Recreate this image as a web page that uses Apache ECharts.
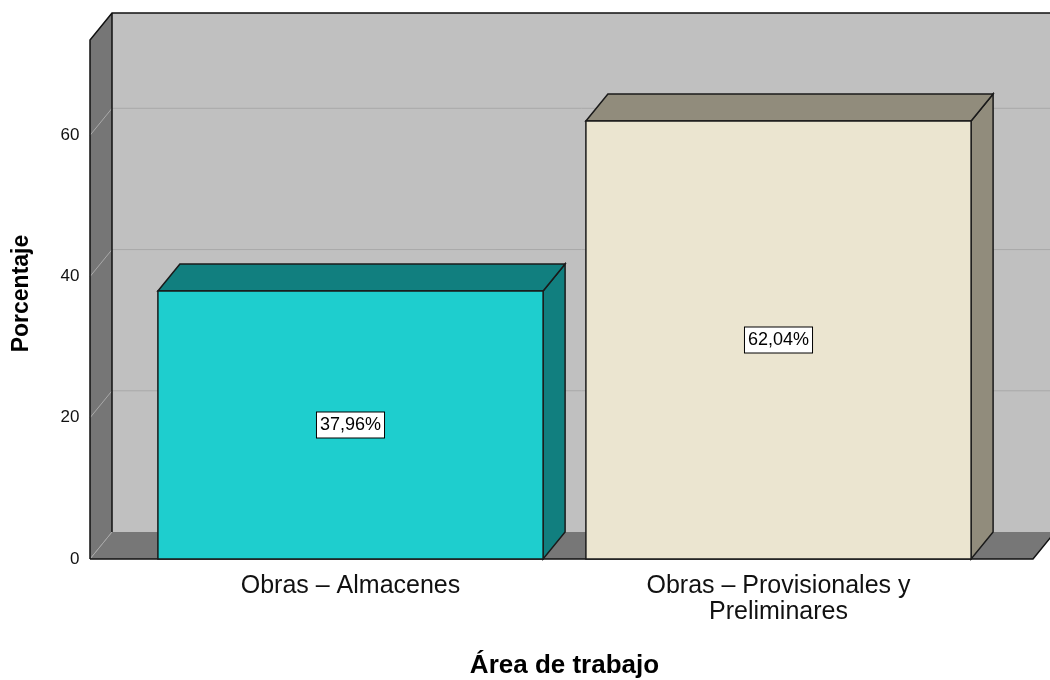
<!DOCTYPE html>
<html>
<head>
<meta charset="utf-8">
<title>Área de trabajo</title>
<script src="https://cdn.jsdelivr.net/npm/echarts@6/dist/echarts.min.js"></script>
<style>
  html, body { margin: 0; padding: 0; background: #fff; }
  #chart { width: 1050px; height: 680px; }
</style>
</head>
<body>
<div id="chart"></div>
<script>
// datos
var categorias = ['Obras – Almacenes', 'Obras – Provisionales y\nPreliminares'];
var porcentajes = [37.96, 62.04];
var yTicks = [0, 20, 40, 60];

// colores (frente / lado-techo)
var coloresFrente = ['#1ecece', '#ebe5d0'];
var coloresSombra = ['#117f7f', '#918c7c'];

var FONT = "'Liberation Sans', Arial, sans-serif";
// profundidad 3D en pixeles
var DX = 22, DY = -27;
var EXTRA_IZQ = 46.5, EXTRA_DER = 40.5;

var myChart = echarts.init(document.getElementById('chart'));

//paredes, piso y lineas de rejilla
function renderParedes(params, api) {
    var cs = params.coordSys;
    var L = cs.x - EXTRA_IZQ;
    var R = cs.x + cs.width + EXTRA_DER;
    var top = cs.y, bot = cs.y + cs.height;
    var hijos = [];
    // pared del fondo
    hijos.push({type: 'rect', shape: {x: L + DX, y: top + DY, width: 1200, height: cs.height},
        style: {fill: '#c0c0c0'}});
    // pared izquierda
    hijos.push({type: 'polygon', shape: {points: [[L, bot], [L, top], [L + DX, top + DY], [L + DX, bot + DY]]},
        style: {fill: '#767676'}});
    // piso
    hijos.push({type: 'polygon', shape: {points: [[L, bot], [R, bot], [R + DX, bot + DY], [L + DX, bot + DY]]},
        style: {fill: '#777777'}});
    // rejilla
    yTicks.forEach(function (v) {
        var y = api.coord([0, v])[1];
        if (v > 0) {
            hijos.push({type: 'line', shape: {x1: L + DX, y1: y + DY, x2: 1100, y2: y + DY},
                style: {stroke: '#a9a9a9', lineWidth: 1}});
        }
        hijos.push({type: 'line', shape: {x1: L, y1: y, x2: L + DX, y2: y + DY},
            style: {stroke: '#a9a9a9', lineWidth: 1}});
    });
    // bordes negros
    var borde = {stroke: '#111', lineWidth: 1.5, fill: null};
    hijos.push({type: 'polyline', shape: {points: [[L, bot], [L, top], [L + DX, top + DY], [1100, top + DY]]}, style: borde});
    hijos.push({type: 'line', shape: {x1: L + DX, y1: top + DY, x2: L + DX, y2: bot + DY}, style: borde});
    hijos.push({type: 'polyline', shape: {points: [[L, bot], [R, bot], [R + DX, bot + DY]]}, style: borde});
    return {type: 'group', children: hijos};
}

//barras 3D
function renderBarra(params, api) {
    var idx = api.value(0);
    var val = api.value(1);
    var p0 = api.coord([idx, 0]);
    var p1 = api.coord([idx, val]);
    var w = api.size([1, 0])[0] * 0.9;
    var x0 = p0[0] - w / 2, x1 = p0[0] + w / 2;
    var yT = p1[1], yB = p0[1];
    var borde = {stroke: '#1a1a1a', lineWidth: 1.5};
    return {
        type: 'group',
        children: [
            {type: 'polygon', shape: {points: [[x1, yT], [x1 + DX, yT + DY], [x1 + DX, yB + DY], [x1, yB]]},
                style: Object.assign({fill: coloresSombra[idx]}, borde)},
            {type: 'polygon', shape: {points: [[x0, yT], [x0 + DX, yT + DY], [x1 + DX, yT + DY], [x1, yT]]},
                style: Object.assign({fill: coloresSombra[idx]}, borde)},
            {type: 'rect', shape: {x: x0, y: yT, width: w, height: yB - yT},
                style: Object.assign({fill: coloresFrente[idx]}, borde)},
            {type: 'text', x: p0[0], y: (yT + yB) / 2,
                style: {
                    text: val.toFixed(2).replace('.', ',') + '%',
                    fill: '#000', fontSize: 18, fontFamily: FONT,
                    align: 'center', verticalAlign: 'middle',
                    backgroundColor: '#fff', borderColor: '#000', borderWidth: 1,
                    padding: [4, 3, 3, 3]
                }}
        ]
    };
}

var option = {
    animation: false,
    grid: {left: 136.5, right: 57.5, top: 40, bottom: 121, containLabel: false, outerBoundsMode: 'none'},
    xAxis: {
        type: 'category',
        data: categorias,
        name: 'Área de trabajo',
        nameLocation: 'middle',
        nameGap: 94,
        nameTextStyle: {fontSize: 26, fontWeight: 'bold', color: '#000', fontFamily: FONT},
        axisLine: {show: false},
        axisTick: {show: false},
        axisLabel: {fontSize: 25, lineHeight: 26, color: '#111', margin: 14, fontFamily: FONT, interval: 0}
    },
    yAxis: {
        type: 'value',
        min: 0,
        max: 73.5,
        interval: 20,
        name: 'Porcentaje',
        nameLocation: 'middle',
        nameRotate: 90,
        nameGap: 103,
        nameTextStyle: {fontSize: 23, fontWeight: 'bold', color: '#000', fontFamily: FONT, padding: [0, 0, 0, 12]},
        axisLine: {show: false},
        axisTick: {show: false},
        splitLine: {show: false},
        axisLabel: {fontSize: 17, color: '#111', margin: 57, showMaxLabel: false, fontFamily: FONT}
    },
    series: [
        {
            type: 'custom',
            name: 'paredes',
            z: 1,
            silent: true,
            renderItem: renderParedes,
            data: [[0, 0]]
        },
        {
            type: 'custom',
            name: 'Porcentaje',
            z: 2,
            renderItem: renderBarra,
            data: porcentajes.map(function (v, i) { return [i, v]; })
        }
    ]
};

myChart.setOption(option);
window.onresize = myChart.resize;
</script>
</body>
</html>
